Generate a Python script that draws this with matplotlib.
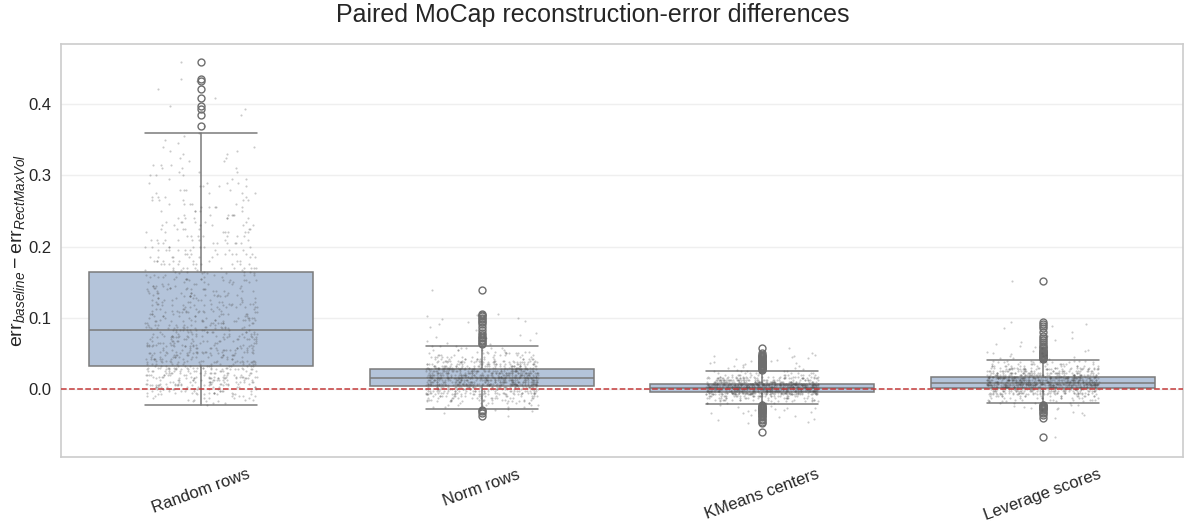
import numpy as np
import pandas as pd
import matplotlib
matplotlib.use('Agg')
import matplotlib.pyplot as plt
import seaborn as sns

# categories
methods = ['Random rows', 'Norm rows', 'KMeans centers', 'Leverage scores']

# box summaries
q1 = [0.0323, 0.0048, -0.0045, 0.0010]
med = [0.0829, 0.0160, 0.0021, 0.0088]
q3 = [0.1639, 0.0277, 0.0074, 0.0173]
whis_lo = [-0.0229, -0.0275, -0.0212, -0.0201]
whis_hi = [0.3590, 0.0604, 0.0251, 0.0402]

# outliers
fliers_rand = [0.369, 0.385, 0.394, 0.398, 0.409, 0.421, 0.433, 0.435, 0.459]
fliers_norm = [0.063, 0.065, 0.067, 0.069, 0.071, 0.073, 0.076, 0.079, 0.083,
               0.087, 0.091, 0.094, 0.096, 0.098, 0.100, 0.102, 0.104, 0.106,
               0.1385, -0.029, -0.031, -0.034, -0.038]
fliers_kmeans = [0.027, 0.028, 0.029, 0.030, 0.031, 0.032, 0.033, 0.034, 0.035,
                 0.036, 0.037, 0.038, 0.039, 0.040, 0.041, 0.042, 0.044, 0.045,
                 0.046, 0.047, 0.048, 0.050, 0.057,
                 -0.023, -0.024, -0.025, -0.026, -0.027, -0.028, -0.029, -0.030,
                 -0.031, -0.032, -0.033, -0.034, -0.036, -0.038, -0.040, -0.042,
                 -0.044, -0.046, -0.048, -0.060]
fliers_lev = [0.042, 0.043, 0.044, 0.045, 0.046, 0.047, 0.048, 0.049, 0.050,
              0.051, 0.052, 0.053, 0.054, 0.055, 0.057, 0.059, 0.061, 0.063,
              0.066, 0.069, 0.072, 0.075, 0.080, 0.085, 0.088, 0.091, 0.094,
              0.152,
              -0.022, -0.023, -0.024, -0.025, -0.026, -0.027, -0.028, -0.030,
              -0.032, -0.034, -0.037, -0.041, -0.068]
fliers = [fliers_rand, fliers_norm, fliers_kmeans, fliers_lev]

# point clouds, estimated as counts per value bin: (first bin value, bin step, counts)
cloud_rand = [
    (-0.0225, 0.0025,
     [1, 2, 3, 4, 5, 6, 8, 9, 11, 12,
      13, 14, 15, 15, 15, 16, 16, 16, 16, 16,
      16, 16, 15, 14, 14, 13, 13, 13, 13, 13,
      13, 12, 12, 12, 12, 12, 12, 12, 12, 11,
      11, 11, 11, 11, 10, 10, 10, 10, 9, 9,
      9, 9, 9, 8, 8, 8, 8, 8, 8, 7,
      7, 7, 7, 7, 7, 7, 6, 6, 6, 6,
      6, 6, 6, 6, 5, 5, 5]),
    (0.170, 0.005,
     [10, 10, 10, 9, 9, 9, 8, 8, 8, 7, 7, 7, 6, 6, 6, 6, 5, 5, 5, 5,
      4, 4, 4, 4, 4, 3, 3, 3, 3, 3, 2, 2, 2, 2, 2, 1, 1, 1, 1]),
]
cloud_norm = [
    (-0.0275, 0.0025,
     [2, 4, 6, 8, 10, 13, 16, 19, 22, 25, 29, 33, 37,
      50, 55, 57, 58, 58, 56, 54, 51, 48, 44,
      38, 32, 27, 22, 18, 15, 12, 10, 8, 6, 5, 4, 3]),
]
cloud_kmeans = [
    (-0.0200, 0.0025,
     [5, 9, 14, 21, 31, 44, 62, 100, 118, 122, 115, 95,
      62, 44, 31, 21, 14, 9, 5]),
]
cloud_lev = [
    (-0.0200, 0.0025,
     [4, 6, 9, 13, 18, 24, 32, 42, 55, 75, 80, 83, 80, 75, 70,
      60, 49, 40, 32, 26, 21, 16, 12, 9, 6]),
]
clouds = [cloud_rand, cloud_norm, cloud_kmeans, cloud_lev]

sns.set_style('whitegrid')
plt.rcParams['font.family'] = ['Liberation Sans', 'DejaVu Sans']
plt.rcParams['mathtext.fontset'] = 'custom'
plt.rcParams['mathtext.rm'] = 'Liberation Sans'
plt.rcParams['mathtext.it'] = 'Liberation Sans:italic'

fig = plt.figure(figsize=(11.86, 5.21), dpi=100)
ax = fig.add_axes([61 / 1186, 64 / 521, 1122 / 1186, 413 / 521])

# boxes
stats = []
for i, m in enumerate(methods):
    stats.append(dict(label=m, q1=q1[i], med=med[i], q3=q3[i],
                      whislo=whis_lo[i], whishi=whis_hi[i], fliers=fliers[i]))
ax.bxp(stats, positions=range(len(methods)), widths=0.8, capwidths=0.4,
       patch_artist=True, manage_ticks=False, zorder=2,
       boxprops=dict(facecolor='#b4c4da', edgecolor='#7a7a7a', linewidth=1.1),
       medianprops=dict(color='#7a7a7a', linewidth=1.1),
       whiskerprops=dict(color='#7a7a7a', linewidth=1.1),
       capprops=dict(color='#7a7a7a', linewidth=1.1),
       flierprops=dict(marker='o', markersize=5, markerfacecolor='none',
                       markeredgecolor='#6e6e6e', markeredgewidth=1.0))

# jittered raw points
rows = []
for i, m in enumerate(methods):
    for start, step, counts in clouds[i]:
        vals = start + step * np.arange(len(counts))
        for v, c in zip(vals, counts):
            rows += [(m, v)] * c
    rows += [(m, v) for v in fliers[i]]
df = pd.DataFrame(rows, columns=['method', 'diff'])

np.random.seed(0)
sns.stripplot(data=df, x='method', y='diff', order=methods, jitter=0.2,
              size=1.5, color='0.3', alpha=0.3, linewidth=0, ax=ax, zorder=3)

ax.axhline(0, color='#c43a3a', linestyle='--', linewidth=1.1, zorder=4)

ax.set_xlim(-0.5, 3.5)
ax.set_ylim(-0.0955, 0.4846)
ax.set_yticks([0.0, 0.1, 0.2, 0.3, 0.4])
ax.set_xlabel('')
ax.set_ylabel(r'$\mathrm{err}_{baseline} - \mathrm{err}_{RectMaxVol}$', fontsize=14)
ax.yaxis.set_label_coords(-0.03, 0.5)
ax.tick_params(axis='x', labelsize=12, labelrotation=20)
ax.tick_params(axis='y', labelsize=12)
ax.grid(axis='y', color='#efefef', linewidth=1)
ax.grid(axis='x', visible=False)
for s in ax.spines.values():
    s.set_color('#cccccc')
    s.set_linewidth(1.2)

fig.suptitle('Paired MoCap reconstruction-error differences', fontsize=18,
             y=1 - 15 / 521, va='center', color='#262626')

fig.savefig('out.png', dpi=100)
